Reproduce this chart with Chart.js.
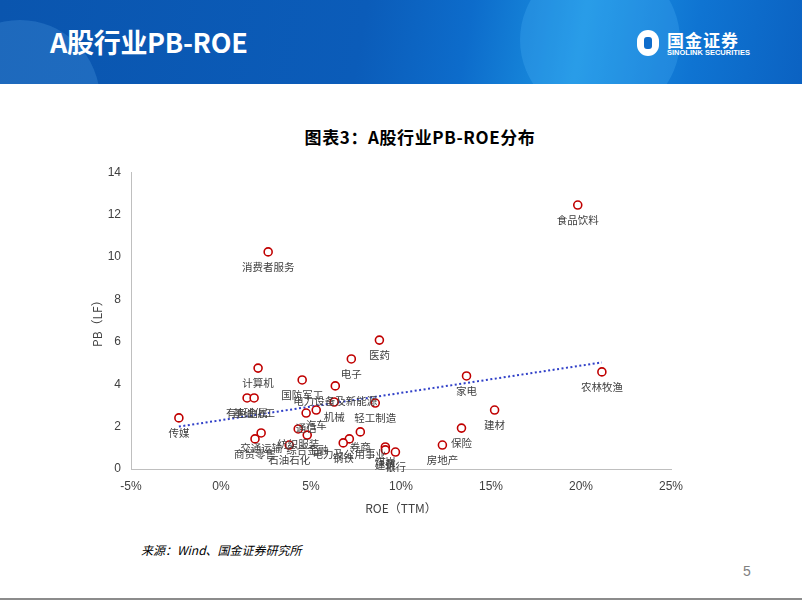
<!DOCTYPE html>
<html>
<head>
<meta charset="utf-8">
<script src="https://cdn.jsdelivr.net/npm/chart.js@4"></script>
<style>
  body { margin: 0; width: 802px; height: 602px; overflow: hidden; background: #fff; position: relative; font-family: "Noto Sans CJK SC", "Noto Sans", sans-serif; }
  .banner { position: absolute; left: 0; top: 0; width: 802px; height: 84px; overflow: hidden;
    background: linear-gradient(100deg, #0a55ae 0%, #0b5cb9 45%, #0d6ccb 58%, #1b93e2 72%, #0f74d2 86%, #0b62c2 100%); }
  .banner .disc { position: absolute; border-radius: 50%; background: rgba(120, 200, 255, 0.18); }
  .banner h1 { position: absolute; left: 50px; top: 22px; margin: 0; color: #fff; font-size: 27px; font-weight: bold; font-family: "Noto Sans CJK SC", sans-serif; letter-spacing: -0.3px; }
  .logo-icon { position: absolute; left: 637px; top: 30px; width: 22px; height: 26px; border-radius: 11px; background: #fff; }
  .logo-icon:after { content: ""; position: absolute; left: 7px; top: 7px; width: 8px; height: 12px; border-radius: 3px; background: #0e6ccb; }
  .logo-cn { position: absolute; left: 667px; top: 27px; color: #fff; font-size: 17px; font-weight: bold; letter-spacing: 1px; }
  .logo-en { position: absolute; left: 667px; top: 48px; color: #fff; font-size: 7.5px; font-weight: bold; font-family: "Liberation Sans", sans-serif; }
  .ctitle { position: absolute; left: 0; width: 840px; top: 124px; text-align: center; font-size: 17px; letter-spacing: 0.6px; font-weight: bold; color: #000; }
  .source { position: absolute; left: 141px; top: 541px; font-size: 12px; font-style: italic; color: #000; }
  .pnum { position: absolute; left: 743px; top: 563px; font-size: 14px; color: #808080; font-family: "Liberation Sans", sans-serif; }
  .bline { position: absolute; left: 0; top: 598px; width: 802px; height: 2px; background: #8c8c8c; }
  #wrap { position: absolute; left: 60px; top: 155px; width: 640px; height: 365px; }
</style>
</head>
<body>
<div class="banner">
  <div class="disc" style="left:-60px; top:20px; width:160px; height:160px;"></div>
  <div class="disc" style="left:520px; top:-40px; width:160px; height:160px; background: rgba(90,190,255,0.22);"></div>
  <h1>A股行业PB-ROE</h1>
  <div class="logo-icon"></div>
  <div class="logo-cn">国金证券</div>
  <div class="logo-en">SINOLINK SECURITIES</div>
</div>
<div class="ctitle">图表3：A股行业PB-ROE分布</div>
<div id="wrap"><canvas id="pbChart"></canvas></div>
<div class="source">来源：Wind、国金证券研究所</div>
<div class="pnum">5</div>
<div class="bline"></div>

<script>
const industries = ['传媒', '消费者服务', '食品饮料', '农林牧渔', '家电', '建材', '保险', '房地产',
  '医药', '电子', '计算机', '国防军工', '电力设备及新能源', '机械', '轻工制造', '有色金属', '基础化工',
  '通信', '汽车', '纺织服装', '综合金融', '石油石化', '交通运输', '商贸零售', '券商', '电力及公用事业',
  '钢铁', '煤炭', '建筑', '银行'];
// ROE (TTM), %
const roe = [-2.34, 2.62, 19.82, 21.16, 13.64, 15.2, 13.36, 12.3,
  8.8, 7.24, 2.06, 4.51, 6.35, 6.29, 8.57, 1.45, 1.84,
  4.73, 5.29, 4.29, 4.79, 3.79, 2.23, 1.89, 7.74, 7.13,
  6.79, 9.13, 9.13, 9.69];
// PB (LF)
const pb = [2.41, 10.24, 12.45, 4.58, 4.39, 2.78, 1.93, 1.13,
  6.08, 5.19, 4.76, 4.2, 3.92, 3.16, 3.11, 3.35, 3.35,
  2.64, 2.78, 1.89, 1.6, 1.13, 1.7, 1.42, 1.75, 1.42,
  1.23, 1.04, 0.9, 0.8];
const xTicks = [-5, 0, 5, 10, 15, 20, 25];
const yTicks = [0, 2, 4, 6, 8, 10, 12, 14];

const points = roe.map((v, i) => ({ x: v, y: pb[i] }));

// linear trend line (least squares), like Excel's trendline
const n = roe.length;
const mx = roe.reduce((a, b) => a + b, 0) / n;
const my = pb.reduce((a, b) => a + b, 0) / n;
let sxy = 0, sxx = 0;
roe.forEach((v, i) => { sxy += (v - mx) * (pb[i] - my); sxx += (v - mx) * (v - mx); });
const slope = sxy / sxx;
const icpt = my - slope * mx;
const xMin = Math.min(...roe), xMax = Math.max(...roe);
const trend = [{ x: xMin, y: icpt + slope * xMin }, { x: xMax, y: icpt + slope * xMax }];

// names under each point
const pointLabels = {
  id: 'pointLabels',
  afterDatasetsDraw(chart) {
    const meta = chart.getDatasetMeta(0);
    const c = chart.ctx;
    c.save();
    c.font = '10.5px "Noto Sans CJK SC", sans-serif';
    c.fillStyle = '#404040';
    c.textAlign = 'center';
    c.textBaseline = 'middle';
    meta.data.forEach((el, i) => {
      c.fillText(industries[i], el.x, el.y + 15);
    });
    c.restore();
  }
};

const tickFont = { family: '"Liberation Sans", sans-serif', size: 12 };
const titleFont = { family: '"Noto Sans CJK SC", sans-serif', size: 12 };

new Chart(document.getElementById('pbChart').getContext('2d'), {
  type: 'scatter',
  data: {
    datasets: [{
      label: 'PB-ROE',
      data: points,
      pointRadius: 4,
      pointHoverRadius: 4,
      pointBorderWidth: 1.6,
      pointBorderColor: '#C00000',
      pointBackgroundColor: '#ffffff',
      order: 1,
    }, {
      type: 'line',
      label: 'trend',
      data: trend,
      borderColor: '#3040c8',
      borderWidth: 2,
      borderDash: [2, 2.5],
      pointRadius: 0,
      fill: false,
      order: 2,
    }]
  },
  options: {
    responsive: true,
    maintainAspectRatio: false,
    animation: false,
    layout: { padding: { top: 7, right: 29, left: 26, bottom: 0 } },
    scales: {
      x: {
        type: 'linear',
        min: -5,
        max: 25,
        afterBuildTicks: (s) => { s.ticks = xTicks.map(v => ({ value: v })); },
        afterFit: (s) => { s.height = 51; },
        grid: { display: false, drawTicks: false },
        border: { display: true, color: '#bfbfbf', width: 1 },
        ticks: { color: '#404040', font: tickFont, padding: 10, maxRotation: 0, callback: v => v + '%' },
        title: { display: true, text: 'ROE（TTM）', color: '#404040', font: titleFont, padding: { top: 0 } },
      },
      y: {
        min: 0,
        max: 14,
        afterBuildTicks: (s) => { s.ticks = yTicks.map(v => ({ value: v })); },
        afterFit: (s) => { s.width = 45; },
        grid: { display: false, drawTicks: false },
        border: { display: true, color: '#bfbfbf', width: 1 },
        ticks: { color: '#404040', font: tickFont, padding: 10 },
        title: { display: true, text: 'PB（LF）', color: '#404040', font: titleFont, padding: { bottom: 4 } },
      },
    },
    plugins: {
      legend: { display: false },
      tooltip: { enabled: false },
    },
  },
  plugins: [pointLabels],
});
</script>
</body>
</html>
